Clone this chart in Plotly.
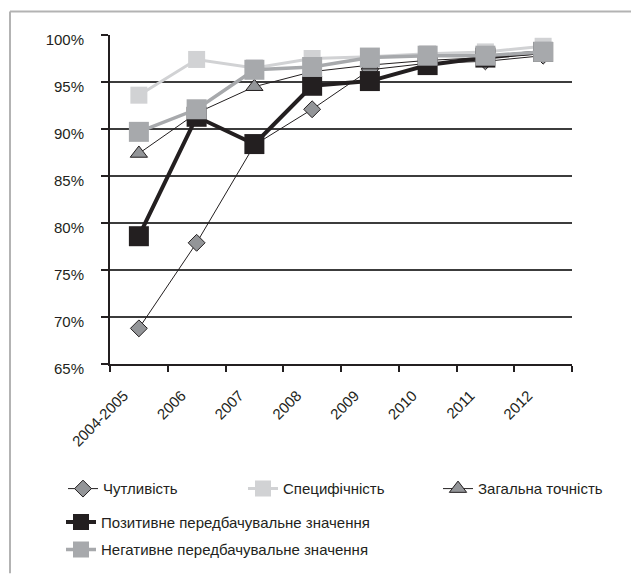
import plotly.graph_objects as go

# Categories (study periods)
years = ["2004-2005", "2006", "2007", "2008", "2009", "2010", "2011", "2012"]

# Diagnostic indicators, %
sensitivity = [68.8, 77.9, 88.3, 92.1, 96.3, 97.0, 97.2, 97.8]
specificity = [93.6, 97.4, 96.5, 97.5, 97.7, 98.0, 98.2, 98.8]
accuracy = [87.4, 91.7, 94.5, 96.1, 96.8, 97.3, 97.6, 98.0]
ppv = [78.6, 91.3, 88.4, 94.6, 95.1, 96.8, 97.6, 98.2]
npv = [89.7, 92.1, 96.3, 96.6, 97.6, 97.8, 97.8, 98.2]

y_ticks = [65, 70, 75, 80, 85, 90, 95, 100]
y_tick_labels = [f"{v}%" for v in y_ticks]

W, H = 631, 578
# whole plotting region: 35..375 px vertically; data axes use 35..370,
# the label axes sit 5 px lower (40..375)
ML, MR, MT, MB = 110, 59, 35, 203
PW, PH = W - ML - MR, H - MT - MB
LABEL_DROP = 5 / PH

FONT = "Liberation Sans, Arial, sans-serif"
TXT = "#231f20"

# x labels are nudged left relative to the category centres
X_LABEL_SHIFT = 0.26


def px_to_paper_y(py):
    return (H - MB - py) / PH


def px_to_paper_x(px):
    return (px - ML) / PW


fig = go.Figure()

fig.add_trace(go.Scatter(
    x=years, y=sensitivity, name="Чутливість", mode="lines+markers",
    line=dict(color="#231f20", width=1),
    marker=dict(symbol="diamond", size=13, color="#939598",
                line=dict(color="#231f20", width=1)),
    legend="legend",
))
fig.add_trace(go.Scatter(
    x=years, y=specificity, name="Специфічність", mode="lines+markers",
    line=dict(color="#d1d2d4", width=3),
    marker=dict(symbol="square", size=17, color="#d1d2d4"),
    legend="legend2",
))
fig.add_trace(go.Scatter(
    x=years, y=accuracy, name="Загальна точність", mode="lines+markers",
    line=dict(color="#231f20", width=1),
    marker=dict(symbol="triangle-up", size=15, color="#939598",
                line=dict(color="#231f20", width=1)),
    legend="legend3",
))
fig.add_trace(go.Scatter(
    x=years, y=ppv, name="Позитивне передбачувальне значення", mode="lines+markers",
    line=dict(color="#231f20", width=4),
    marker=dict(symbol="square", size=20, color="#231f20"),
    legend="legend4",
))
fig.add_trace(go.Scatter(
    x=years, y=npv, name="Негативне передбачувальне значення", mode="lines+markers",
    line=dict(color="#a7a9ac", width=3.5),
    marker=dict(symbol="square", size=20, color="#a7a9ac"),
    legend="legend5",
))

# empty helper trace so the label-only axes get rendered
fig.add_trace(go.Scatter(
    x=[], y=[], mode="none", xaxis="x2", yaxis="y2",
    showlegend=False, hoverinfo="skip",
))

# Outer frame (top and left edges visible)
fig.add_shape(type="line", xref="paper", yref="paper",
              x0=px_to_paper_x(10), x1=px_to_paper_x(W + 5),
              y0=px_to_paper_y(11), y1=px_to_paper_y(11),
              line=dict(color="#b3b3b3", width=2))
fig.add_shape(type="line", xref="paper", yref="paper",
              x0=px_to_paper_x(10), x1=px_to_paper_x(10),
              y0=px_to_paper_y(11), y1=px_to_paper_y(H + 5),
              line=dict(color="#b3b3b3", width=2))


def legend_at(px, py):
    return dict(
        x=px_to_paper_x(px), y=px_to_paper_y(py),
        xanchor="left", yanchor="middle",
        orientation="h", bgcolor="rgba(0,0,0,0)",
        font=dict(family=FONT, size=15, color=TXT),
        itemsizing="trace", tracegroupgap=0,
    )


fig.update_layout(
    width=W, height=H,
    margin=dict(l=ML, r=MR, t=MT, b=MB),
    paper_bgcolor="white", plot_bgcolor="rgba(0,0,0,0)",
    font=dict(family=FONT, size=15, color=TXT),
    showlegend=True,
    legend=legend_at(63, 497),
    legend2=legend_at(243, 497),
    legend3=legend_at(438, 497),
    legend4=legend_at(61, 531),
    legend5=legend_at(61, 559),
    xaxis=dict(
        type="category", range=[-0.5, 7.5], domain=[0, 1], anchor="y",
        tickson="boundaries", ticks="outside", ticklen=6, tickwidth=1.5,
        tickcolor="#231f20", showline=True, linecolor="#231f20", linewidth=1.5,
        showgrid=False, showticklabels=False, automargin=False,
    ),
    yaxis=dict(
        range=[65, 100], tickvals=y_ticks, domain=[LABEL_DROP, 1], anchor="x",
        ticks="outside", ticklen=7, tickwidth=1.5, tickcolor="#231f20",
        showline=True, linecolor="#231f20", linewidth=1.5,
        showgrid=True, gridcolor="#3c3c3c", gridwidth=1.8,
        zeroline=False, showticklabels=False, automargin=False,
    ),
    # label-only axes
    xaxis2=dict(
        domain=[0, 1], anchor="y2", side="bottom",
        range=[-0.5 + X_LABEL_SHIFT, 7.5 + X_LABEL_SHIFT],
        tickvals=list(range(len(years))), ticktext=years,
        tickangle=-45, ticks="", showline=False, showgrid=False,
        zeroline=False, ticklabelstandoff=14, automargin=False,
        tickfont=dict(family=FONT, size=15, color=TXT),
    ),
    yaxis2=dict(
        domain=[0, 1 - LABEL_DROP], anchor="x2", side="left",
        range=[65, 100],
        tickvals=y_ticks, ticktext=y_tick_labels,
        ticks="", showline=False, showgrid=False, zeroline=False,
        ticklabelstandoff=25, automargin=False,
        tickfont=dict(family=FONT, size=15, color=TXT),
    ),
)

fig.write_html("out.html")
